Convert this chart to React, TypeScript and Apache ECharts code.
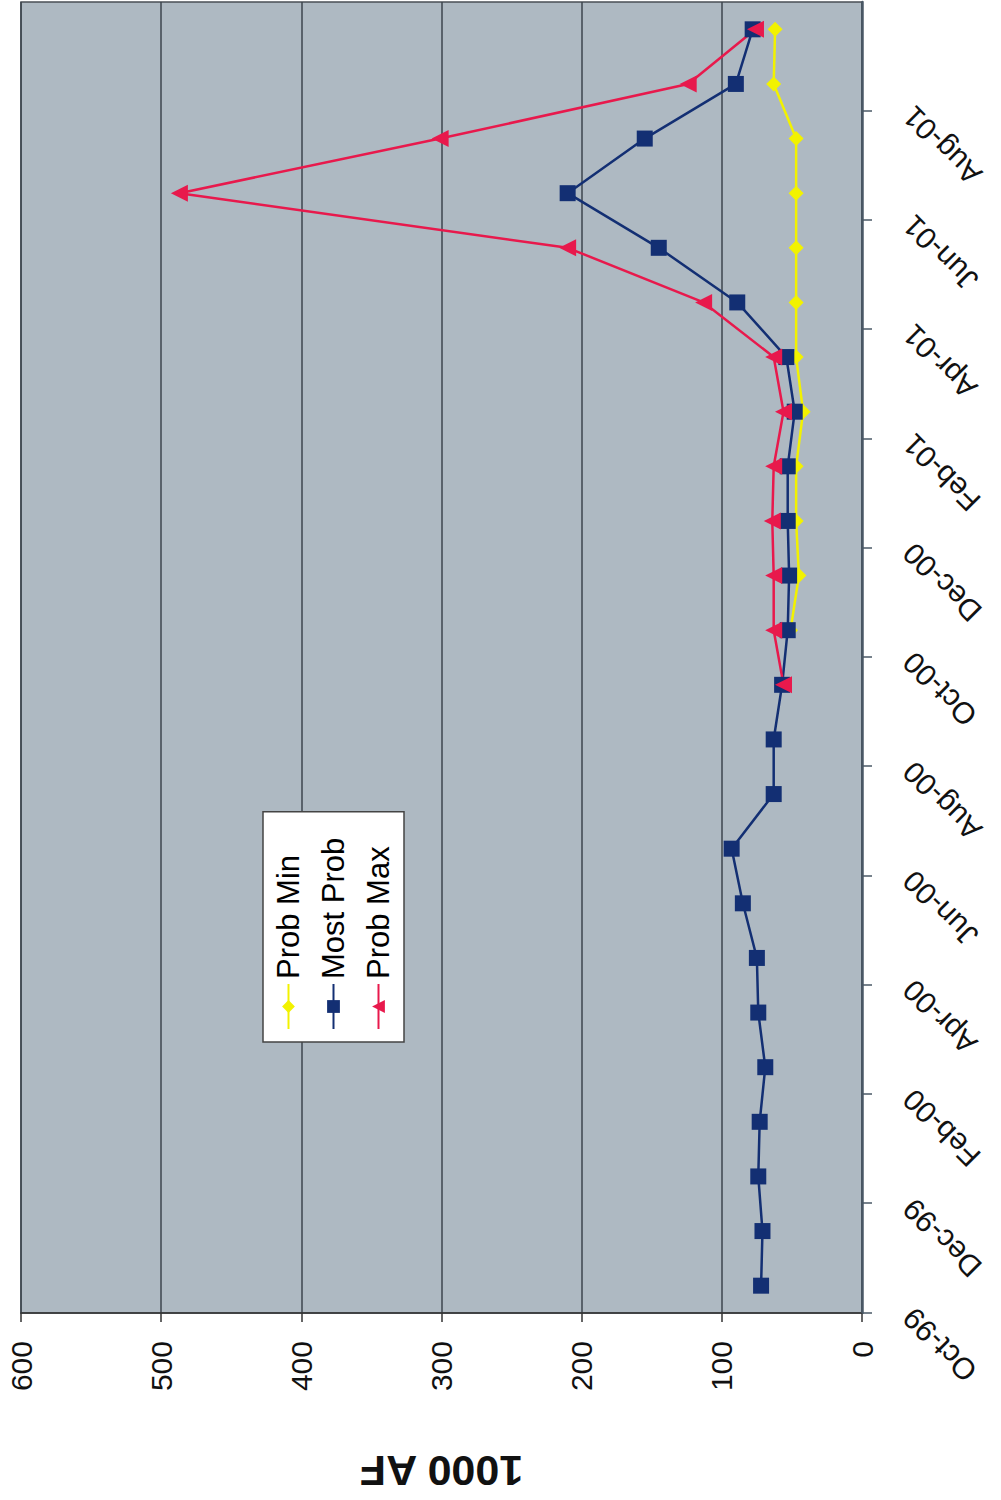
import React, { useEffect, useRef } from "react";
import * as echarts from "echarts";

const months = [
  "Oct-99", "Nov-99", "Dec-99", "Jan-00", "Feb-00", "Mar-00", "Apr-00", "May-00",
  "Jun-00", "Jul-00", "Aug-00", "Sep-00", "Oct-00", "Nov-00", "Dec-00", "Jan-01",
  "Feb-01", "Mar-01", "Apr-01", "May-01", "Jun-01", "Jul-01", "Aug-01", "Sep-01",
];

const probMin: (number | null)[] = [
  null, null, null, null, null, null, null, null, null, null, null, null,
  51, 45, 47, 47, 42, 47, 47, 47, 47, 47, 63, 62,
];
const mostProb: (number | null)[] = [
  72, 71, 74, 73, 69, 74, 75, 85, 93, 63, 63, 57,
  53, 52, 53, 53, 48, 54, 89, 145, 210, 155, 90, 78,
];
const probMax: (number | null)[] = [
  null, null, null, null, null, null, null, null, null, null, null, 56,
  63, 63, 64, 63, 56, 63, 113, 210, 487, 301, 124, 76,
];

const valueMin = 0;
const valueMax = 600;
const valueStep = 100;
const yTitle = "1000 AF";
const seriesNames = ["Prob Min", "Most Prob", "Prob Max"];

const FONT = "'Liberation Sans', Arial, sans-serif";

function toPoints(arr: (number | null)[]) {
  const out: [number, number][] = [];
  arr.forEach((v, i) => {
    if (v !== null) out.push([i + 0.5, v]);
  });
  return out;
}

export default function App() {
  const ref = useRef<HTMLDivElement>(null);
  useEffect(() => {
    if (!ref.current) return;
    const chart = echarts.init(ref.current, undefined, { renderer: "svg" });
    chart.setOption({
      animation: false,
      backgroundColor: "#ffffff",
      textStyle: { fontFamily: FONT },
      grid: {
        left: 180,
        right: 2,
        top: 21,
        bottom: 139,
        show: true,
        backgroundColor: "#aeb9c2",
        borderColor: "#4a4f55",
        borderWidth: 1.5,
        containLabel: false,
      },
      legend: {
        orient: "vertical",
        left: 458,
        top: 263,
        itemWidth: 45,
        itemHeight: 16,
        itemGap: 14,
        padding: [10, 26, 10, 12],
        backgroundColor: "#ffffff",
        borderColor: "#444",
        borderWidth: 1.5,
        data: seriesNames,
        textStyle: { fontSize: 31, color: "#000", fontFamily: FONT },
      },
      xAxis: {
        type: "value",
        min: 0,
        max: months.length,
        interval: 2,
        axisLine: { show: true, lineStyle: { color: "#4a5866", width: 2.5 } },
        axisTick: { show: true, length: 10, lineStyle: { color: "#4a5866", width: 1.5 } },
        splitLine: { show: false },
        axisLabel: {
          rotate: 45,
          margin: 46,
          fontSize: 30,
          color: "#111",
          fontFamily: FONT,
          showMaxLabel: false,
          formatter: (v: number) => (v < months.length ? months[v] : ""),
        },
      },
      yAxis: {
        type: "value",
        min: valueMin,
        max: valueMax,
        interval: valueStep,
        name: yTitle,
        nameLocation: "middle",
        nameRotate: 90,
        nameGap: 136,
        nameTextStyle: { fontSize: 43, fontWeight: "bold", color: "#111", fontFamily: FONT },
        axisLine: { show: true, lineStyle: { color: "#333", width: 1.5 } },
        axisTick: { show: true, length: 9, lineStyle: { color: "#333", width: 1.5 } },
        axisLabel: { fontSize: 30, margin: 28, color: "#111", fontFamily: FONT },
        splitLine: { show: true, lineStyle: { color: "#3c464e", width: 1.5 } },
      },
      series: [
        {
          name: seriesNames[0],
          type: "line",
          data: toPoints(probMin),
          symbol: "diamond",
          symbolSize: 15,
          lineStyle: { color: "#f2f200", width: 2.5 },
          itemStyle: { color: "#f2f200" },
        },
        {
          name: seriesNames[1],
          type: "line",
          data: toPoints(mostProb),
          symbol: "rect",
          symbolSize: 16,
          lineStyle: { color: "#132f73", width: 2.5 },
          itemStyle: { color: "#132f73" },
        },
        {
          name: seriesNames[2],
          type: "line",
          data: toPoints(probMax),
          symbol: "triangle",
          symbolSize: 17,
          lineStyle: { color: "#e8194c", width: 2.5 },
          itemStyle: { color: "#e8194c" },
        },
      ],
    });
    return () => chart.dispose();
  }, []);

  return (
    <div
      style={{
        position: "absolute",
        left: 0,
        top: 0,
        width: 1001,
        height: 1500,
        overflow: "hidden",
        background: "#fff",
      }}
    >
      <div
        ref={ref}
        style={{
          position: "absolute",
          left: 0,
          top: 0,
          width: 1500,
          height: 1001,
          transformOrigin: "0 0",
          transform: "translate(0px, 1500px) rotate(-90deg)",
        }}
      />
    </div>
  );
}
